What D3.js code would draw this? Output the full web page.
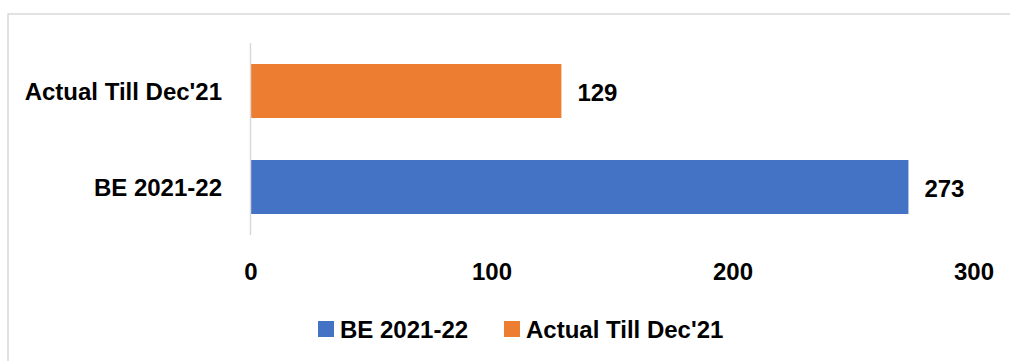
<!DOCTYPE html>
<html>
<head>
<meta charset="utf-8">
<script src="https://cdn.jsdelivr.net/npm/d3@7"></script>
<style>
  html, body { margin: 0; padding: 0; background: #fff; }
  svg { display: block; }
  text { font-family: "Liberation Sans", Arial, sans-serif; font-weight: bold; fill: #000; }
</style>
</head>
<body>
<svg id="chart" width="1010" height="361"></svg>
<script>
const categories = ["Actual Till Dec'21", "BE 2021-22"];
const values = [129, 273];
const colors = ["#ED7D31", "#4472C4"];
const tickValues = [0, 100, 200, 300];
const legendItems = ["BE 2021-22", "Actual Till Dec'21"];
const legendColors = ["#4472C4", "#ED7D31"];

const svg = d3.select("#chart");
const fs = 24;

// outer border
svg.append("rect").attr("x", 8).attr("y", 14).attr("width", 1010).attr("height", 400)
  .attr("fill", "none").attr("stroke", "#d9d9d9").attr("stroke-width", 1.5);

const x = d3.scaleLinear().domain([0, 300]).range([250.5, 973.5]);
const y = d3.scaleBand().domain(categories).range([43, 235]).paddingInner(0.4375).paddingOuter(0.21875);

// bars
svg.selectAll("rect.bar").data(categories).enter().append("rect")
  .attr("class", "bar")
  .attr("x", x(0))
  .attr("y", d => y(d))
  .attr("width", (d, i) => x(values[i]) - x(0))
  .attr("height", y.bandwidth())
  .attr("fill", (d, i) => colors[i]);

// vertical axis line
svg.append("line").attr("x1", x(0)).attr("x2", x(0)).attr("y1", 43).attr("y2", 235)
  .attr("stroke", "#d9d9d9").attr("stroke-width", 1.5);

// category labels
svg.selectAll("text.cat").data(categories).enter().append("text")
  .attr("class", "cat")
  .attr("x", 222)
  .attr("y", d => y(d) + y.bandwidth() / 2)
  .attr("text-anchor", "end")
  .attr("dominant-baseline", "central")
  .attr("font-size", fs)
  .text(d => d);

// value labels
svg.selectAll("text.val").data(categories).enter().append("text")
  .attr("class", "val")
  .attr("x", (d, i) => x(values[i]) + 16)
  .attr("y", d => y(d) + y.bandwidth() / 2 + 1)
  .attr("dominant-baseline", "central")
  .attr("font-size", fs)
  .text((d, i) => values[i]);

// x axis tick labels
const xAxis = d3.axisBottom(x).tickValues(tickValues).tickSize(0).tickPadding(0);
const gx = svg.append("g").attr("transform", "translate(0,271.5)").call(xAxis);
gx.select(".domain").remove();
gx.selectAll("text")
  .attr("font-size", fs)
  .attr("font-family", "Liberation Sans, Arial, sans-serif")
  .attr("font-weight", "bold")
  .attr("fill", "#000")
  .attr("dy", null)
  .attr("y", 0)
  .attr("dominant-baseline", "central");

// legend
const legendX = [318, 504];
const lg = svg.selectAll("g.leg").data(legendItems).enter().append("g")
  .attr("class", "leg")
  .attr("transform", (d, i) => `translate(${legendX[i]},321)`);
lg.append("rect").attr("width", 16).attr("height", 16).attr("fill", (d, i) => legendColors[i]);
lg.append("text").attr("x", 22).attr("y", 8).attr("dominant-baseline", "central")
  .attr("font-size", fs).text(d => d);
</script>
</body>
</html>
